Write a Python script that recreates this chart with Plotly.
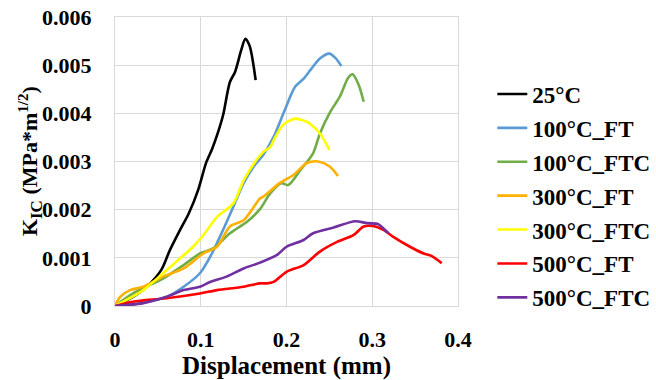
import plotly.graph_objects as go

names = ["25°C", "100°C_FT", "100°C_FTC", "300°C_FT", "300°C_FTC", "500°C_FT", "500°C_FTC"]
colors = ["#000000", "#5B9BD5", "#70AD47", "#FFB000", "#FFFF00", "#FF0000", "#7030A0"]

x_25 = [0, 0.02, 0.037, 0.054, 0.064, 0.075, 0.086, 0.097, 0.106, 0.113, 0.12, 0.126, 0.134, 0.140, 0.147, 0.152, 0.157, 0.164]
y_25 = [0, 0.00018, 0.0004, 0.00075, 0.00116, 0.00155, 0.00192, 0.00241, 0.00296, 0.00325, 0.0036, 0.00396, 0.00465, 0.00486, 0.0053, 0.00555, 0.0054, 0.00469]

x_100ft = [0, 0.03, 0.06, 0.08, 0.099, 0.113, 0.126, 0.138, 0.15, 0.162, 0.173, 0.185, 0.198, 0.21, 0.22, 0.239, 0.25, 0.257, 0.264]
y_100ft = [0, 0.00006, 0.00019, 0.0004, 0.00068, 0.00109, 0.00158, 0.00206, 0.00255, 0.0029, 0.00314, 0.00351, 0.00407, 0.00455, 0.00472, 0.00514, 0.00524, 0.00515, 0.00498]

x_100ftc = [0, 0.021, 0.041, 0.056, 0.08, 0.099, 0.115, 0.134, 0.154, 0.169, 0.181, 0.194, 0.202, 0.216, 0.231, 0.239, 0.251, 0.262, 0.272, 0.277, 0.284, 0.290]
y_100ftc = [0, 0.00026, 0.00044, 0.00057, 0.00085, 0.00109, 0.0012, 0.00151, 0.00175, 0.00201, 0.00234, 0.00255, 0.00251, 0.00282, 0.00317, 0.00358, 0.00403, 0.00434, 0.00474, 0.00481, 0.0046, 0.00424]

x_300ft = [0, 0.006, 0.0175, 0.033, 0.056, 0.08, 0.103, 0.119, 0.134, 0.15, 0.169, 0.173, 0.192, 0.208, 0.224, 0.237, 0.25, 0.26]
y_300ft = [0, 0.00019, 0.00033, 0.0004, 0.00061, 0.00078, 0.00109, 0.00123, 0.00165, 0.00178, 0.00223, 0.00227, 0.00255, 0.00272, 0.00297, 0.003, 0.0029, 0.0027]

x_300ftc = [0, 0.033, 0.056, 0.076, 0.091, 0.103, 0.119, 0.138, 0.15, 0.165, 0.173, 0.181, 0.185, 0.196, 0.21, 0.22, 0.227, 0.239, 0.25]
y_300ftc = [0, 0.00033, 0.00068, 0.00099, 0.00123, 0.00147, 0.00185, 0.00213, 0.00261, 0.00303, 0.0032, 0.0033, 0.00344, 0.00376, 0.00389, 0.00385, 0.00379, 0.00358, 0.00324]

x_500ft = [0, 0.021, 0.06, 0.099, 0.119, 0.15, 0.169, 0.177, 0.185, 0.2, 0.22, 0.239, 0.259, 0.278, 0.29, 0.301, 0.313, 0.325, 0.344, 0.36, 0.369, 0.381]
y_500ft = [0, 0.00009, 0.00016, 0.00026, 0.00033, 0.0004, 0.00047, 0.00047, 0.0005, 0.00071, 0.00085, 0.00113, 0.00133, 0.00147, 0.00165, 0.00166, 0.00158, 0.00143, 0.00123, 0.00109, 0.00104, 0.00089]

x_500ftc = [0, 0.033, 0.06, 0.08, 0.099, 0.111, 0.13, 0.15, 0.169, 0.189, 0.2, 0.22, 0.231, 0.255, 0.28, 0.294, 0.307, 0.313, 0.319]
y_500ftc = [0, 0.00006, 0.00019, 0.00033, 0.0004, 0.0005, 0.00061, 0.00078, 0.0009, 0.00106, 0.00123, 0.00137, 0.00151, 0.00163, 0.00176, 0.00172, 0.0017, 0.00161, 0.00151]

xs = [x_25, x_100ft, x_100ftc, x_300ft, x_300ftc, x_500ft, x_500ftc]
ys = [y_25, y_100ft, y_100ftc, y_300ft, y_300ftc, y_500ft, y_500ftc]

x_ticks = [0, 0.1, 0.2, 0.3, 0.4]
x_ticklabels = ["0", "0.1", "0.2", "0.3", "0.4"]
y_ticks = [0, 0.001, 0.002, 0.003, 0.004, 0.005, 0.006]
y_ticklabels = ["0", "0.001", "0.002", "0.003", "0.004", "0.005", "0.006"]
y_title = "K<sub><span style='font-size:17px'>IC</span></sub> (MPa*m<sup><span style='font-size:15px'>1/2</span></sup>)"

FONT = "Liberation Serif"

fig = go.Figure()
for i, (n, c) in enumerate(zip(names, colors)):
    fig.add_trace(go.Scatter(
        x=xs[i], y=ys[i], mode="lines", name=n, legendgroup=str(i),
        line=dict(color=c, width=2.6, shape="spline", smoothing=0.8),
    ))

grid = "#d9d9d9"
fig.update_layout(
    width=656, height=380,
    margin=dict(l=115, r=198, t=17, b=74, autoexpand=False),
    paper_bgcolor="white", plot_bgcolor="white",
    font=dict(family=FONT, size=22, color="black", weight="bold"),
    showlegend=True,
    legend=dict(
        x=1.1, xanchor="left", y=0.808, yanchor="top",
        traceorder="grouped", tracegroupgap=1,
        font=dict(family=FONT, size=23, color="black", weight="bold"),
        bgcolor="rgba(0,0,0,0)", itemwidth=30,
    ),
    xaxis=dict(
        range=[0, 0.4], tickvals=x_ticks, ticktext=x_ticklabels,
        showgrid=True, gridcolor=grid, gridwidth=1.3,
        showline=True, linecolor=grid, linewidth=1.3, mirror=True,
        zeroline=False, ticks="", ticklabelstandoff=13, automargin=False,
        title=dict(text="Displacement (mm)", standoff=8,
                   font=dict(family=FONT, size=25, weight="bold")),
        tickfont=dict(family=FONT, size=22, weight="bold"),
    ),
    yaxis=dict(
        range=[0, 0.006], tickvals=y_ticks, ticktext=y_ticklabels,
        showgrid=True, gridcolor=grid, gridwidth=1.3,
        showline=True, linecolor=grid, linewidth=1.3, mirror=True,
        zeroline=False, ticks="", ticklabelstandoff=18, automargin=False,
        tickfont=dict(family=FONT, size=22, weight="bold"),
    ),
    annotations=[dict(
        text=y_title, textangle=-90, showarrow=False,
        xref="paper", yref="paper", x=-0.246, y=0.5,
        xanchor="center", yanchor="middle",
        font=dict(family=FONT, size=22, color="black", weight="bold"),
    )],
)

fig.write_html("out.html")
